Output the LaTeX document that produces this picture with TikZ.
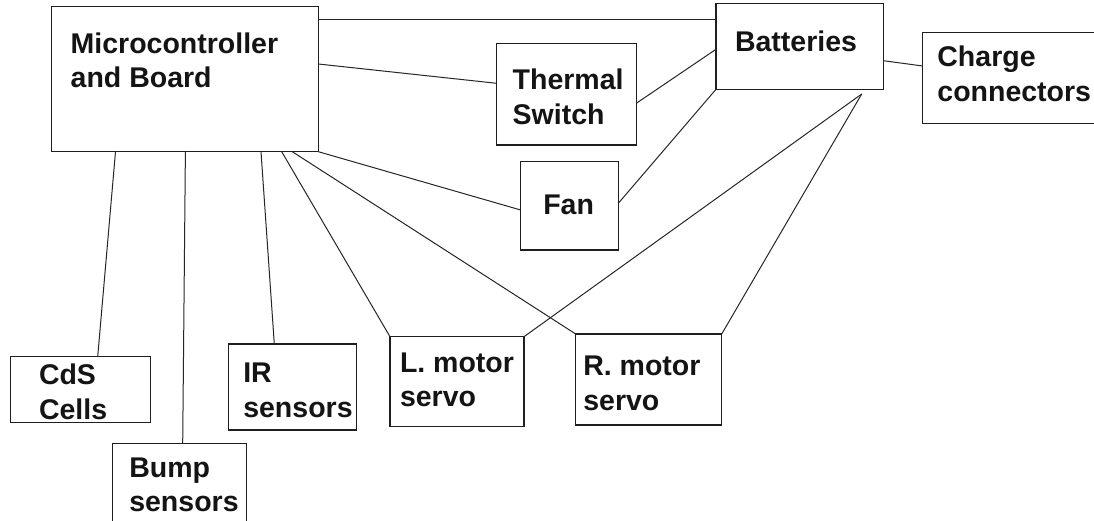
\documentclass[tikz,border=0pt]{standalone}
\usepackage{fontspec}
\setmainfont{Liberation Sans}
\begin{document}
\begin{tikzpicture}[x=1pt,y=-1pt,
  box/.style={draw=black!88,line width=1.5pt,rectangle,anchor=north west,inner sep=0pt,outer sep=0pt},
  lbl/.style={anchor=base west,inner sep=0pt,outer sep=0pt,align=left,font=\fontsize{28.5}{34.5}\selectfont\bfseries,text=black!92},
  conn/.style={draw=black!85,line width=1pt}]
\useasboundingbox[fill=white] (0,0) rectangle (1094,521);
% boxes
\node[box,minimum width=266.6pt,minimum height=145pt] (mc) at (51.7,6.7) {};
\node[box,minimum width=140pt,minimum height=101.7pt] (th) at (496.7,43.3) {};
\node[box,minimum width=167.3pt,minimum height=86pt] (bat) at (716,3.3) {};
\node[box,minimum width=180pt,minimum height=91pt] (chg) at (922.7,32.3) {};
\node[box,minimum width=97.6pt,minimum height=88.3pt] (fan) at (520.7,161.7) {};
\node[box,minimum width=140pt,minimum height=66pt] (cds) at (10.7,356.7) {};
\node[box,minimum width=134.4pt,minimum height=90pt] (bump) at (112.3,443.3) {};
\node[box,minimum width=128.4pt,minimum height=86pt] (ir) at (228.3,344) {};
\node[box,minimum width=134pt,minimum height=90pt] (lm) at (390,336.7) {};
\node[box,minimum width=146pt,minimum height=91pt] (rm) at (575.7,334) {};
% labels (base anchor = baseline of last line)
\node[lbl] (mct) at (70.7,87.7) {Microcontroller\\and Board};
\node[lbl] (tht) at (512.7,124.3) {Thermal\\Switch};
\node[lbl] (batt) at (735,51.7) {Batteries};
\node[lbl] (chgt) at (937.4,101.5) {Charge\\connectors};
\node[lbl] (fant) at (543.3,215) {Fan};
\node[lbl] (cdst) at (39,419.3) {CdS\\Cells};
\node[lbl] (bumpt) at (129.3,511.7) {Bump\\sensors};
\node[lbl] (irt) at (243.3,417.3) {IR\\sensors};
\node[lbl] (lmt) at (400,406.7) {L. motor\\servo};
\node[lbl] (rmt) at (583.3,410) {R. motor\\servo};
% connectors
\coordinate (bp) at (861.7,94);
\draw[conn] (mc.east |- 0,20) -- (bat.west |- 0,20);
\draw[conn] (mc.east |- 0,64) -- (th.west |- 0,83.3);
\draw[conn] (th.east |- 0,103) -- (bat.west |- 0,49.3);
\draw[conn] (mc.south east) -- (fan.west |- 0,210);
\draw[conn] (fan.east |- 0,203.3) -- (bat.south west);
\draw[conn] (bat.east |- 0,60.7) -- (chg.west |- 0,66);
\draw[conn] (bp) -- (lm.north east);
\draw[conn] (bp) -- (rm.north east);
\draw[conn] (115.5,0 |- mc.south) -- (97.7,0 |- cds.north);
\draw[conn] (185.4,0 |- mc.south) -- (182.7,0 |- bump.north);
\draw[conn] (261,0 |- mc.south) -- (274.3,0 |- ir.north);
\draw[conn] (281.7,0 |- mc.south) -- (lm.north west);
\draw[conn] (292.3,0 |- mc.south) -- (rm.north west);
\end{tikzpicture}
\end{document}
